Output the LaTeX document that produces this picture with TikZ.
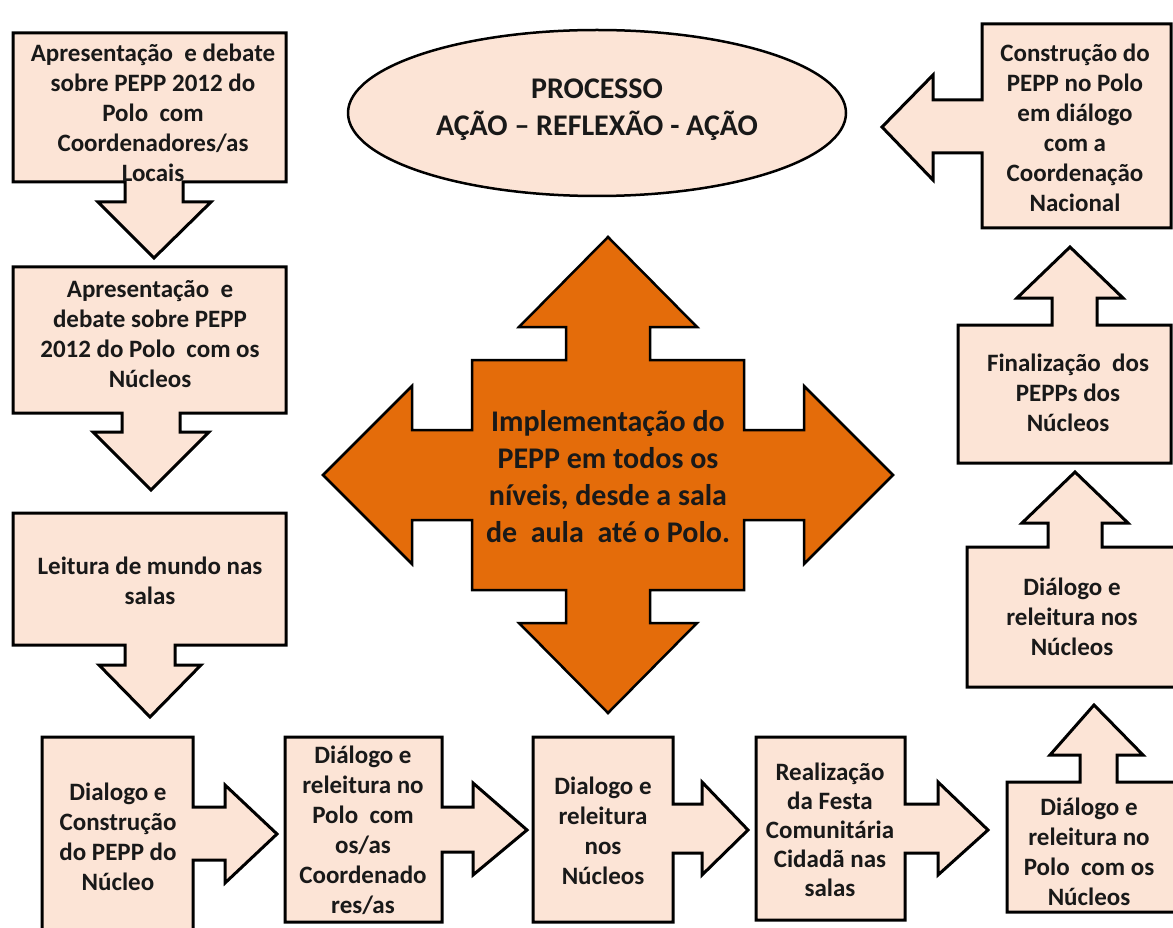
\documentclass[tikz,border=0pt]{standalone}
\usepackage{fontspec}
\setmainfont{Carlito}
\definecolor{peach}{HTML}{FCE4D6}
\definecolor{orng}{HTML}{E46C0A}
\begin{document}
\begin{tikzpicture}[x=1pt,y=-1pt,
  box/.style={fill=peach,draw=black,line width=3pt,line join=miter},
  txt/.style={font=\fontsize{25}{30}\selectfont\bfseries,align=center,inner sep=0pt,text=black!90},
  bigtxt/.style={font=\fontsize{30}{37}\selectfont\bfseries,align=center,inner sep=0pt,text=black!90}]
\useasboundingbox (0,0) rectangle (1173,928);
\fill[white] (0,0) rectangle (1173,928);
\clip (0,0) rectangle (1173,928);

% left column (down arrows)
\draw[box] (13,33) -- (286,33) -- (286,182) -- (183,182) -- (183,202) -- (211,202) -- (154,258)
  -- (98,202) -- (125,202) -- (125,182) -- (13,182) -- cycle;
\draw[box] (13,267) -- (286,267) -- (286,413) -- (180,413) -- (180,432) -- (209,432) -- (151,490)
  -- (93,432) -- (122,432) -- (122,413) -- (13,413) -- cycle;
\draw[box] (13,513) -- (286,513) -- (286,645) -- (175,645) -- (175,665) -- (201,665) -- (150,717)
  -- (99,665) -- (125,665) -- (125,645) -- (13,645) -- cycle;

% bottom row (right arrows)
\draw[box] (42,940) -- (42,737) -- (193,737) -- (193,807) -- (225,807) -- (225,785) -- (277,834)
  -- (225,883) -- (225,860) -- (193,860) -- (193,940);
\draw[box] (285,737) -- (442,737) -- (442,807) -- (473,807) -- (473,783) -- (527,830)
  -- (473,875) -- (473,852) -- (442,852) -- (442,922) -- (285,922) -- cycle;
\draw[box] (533,737) -- (673,737) -- (673,804) -- (702,804) -- (702,782) -- (748,830)
  -- (702,875) -- (702,853) -- (673,853) -- (673,922) -- (533,922) -- cycle;
\draw[box] (756,737) -- (905,737) -- (905,804) -- (938,804) -- (938,782) -- (988,830)
  -- (938,875) -- (938,853) -- (905,853) -- (905,920) -- (756,920) -- cycle;

% right column (up arrows)
\draw[box] (1185,912) -- (1007,912) -- (1007,782) -- (1080,782) -- (1080,755) -- (1050,755) -- (1094,705)
  -- (1143,755) -- (1117,755) -- (1117,782) -- (1185,782);
\draw[box] (1185,687) -- (967,687) -- (967,547) -- (1048,547) -- (1048,523) -- (1022,523) -- (1075,472)
  -- (1128,523) -- (1102,523) -- (1102,547) -- (1185,547);
\draw[box] (1171,463) -- (958,463) -- (958,325) -- (1052,325) -- (1052,298) -- (1017,298) -- (1070,247)
  -- (1123,298) -- (1097,298) -- (1097,325) -- (1171,325) -- cycle;
% top right (left arrow)
\draw[box] (982,24) -- (1171,24) -- (1171,228) -- (982,228) -- (982,153) -- (933,153) -- (933,180)
  -- (882,127) -- (933,75) -- (933,100) -- (982,100) -- cycle;

% ellipse
\draw[fill=peach,draw=black,line width=2.5pt] (597,113) ellipse [x radius=249,y radius=83];

% central four-way arrow
\draw[fill=orng,draw=black,line width=2.5pt,line join=miter]
  (608,237) -- (697,327) -- (650,327) -- (650,360) -- (744,360) -- (744,430) -- (804,430) -- (804,386)
  -- (893,475) -- (804,564) -- (804,520) -- (744,520) -- (744,590) -- (650,590) -- (650,623) -- (697,623)
  -- (608,713) -- (519,623) -- (566,623) -- (566,590) -- (472,590) -- (472,520) -- (412,520) -- (412,564)
  -- (323,475) -- (412,386) -- (412,430) -- (472,430) -- (472,360) -- (566,360) -- (566,327) -- (519,327) -- cycle;

% texts
\node[txt] (tA) at (153,113) {Apresentação\ \ e debate\\sobre PEPP 2012 do\\Polo\ \ com\\Coordenadores/as\\Locais};
\node[txt] (tB) at (150,334) {Apresentação\ \ e\\debate sobre PEPP\\2012 do Polo\ \ com os\\Núcleos};
\node[txt] (tC) at (150,581) {Leitura de mundo nas\\salas};
\node[txt] (tD) at (118,837) {Dialogo e\\Construção\\do PEPP do\\Núcleo};
\node[txt] (tE) at (363,830) {Diálogo e\\releitura no\\Polo\ \ com\\os/as\\Coordenado\\res/as};
\node[txt] (tF) at (603,831) {Dialogo e\\releitura\\nos\\Núcleos};
\node[txt,font=\fontsize{25}{29}\selectfont\bfseries] (tG) at (830,830) {Realização\\da Festa\\Comunitária\\Cidadã nas\\salas};
\node[txt] (tH) at (1089,852) {Diálogo e\\releitura no\\Polo\ \ com os\\Núcleos};
\node[txt] (tJ) at (1072,617) {Diálogo e\\releitura nos\\Núcleos};
\node[txt] (tI) at (1068,393) {Finalização\ \ dos\\PEPPs dos\\Núcleos};
\node[txt] (tK) at (1075,128) {Construção do\\PEPP no Polo\\em diálogo\\com a\\Coordenação\\Nacional};
\node[bigtxt] (tP) at (597,110) {PROCESSO\\AÇÃO – REFLEXÃO - AÇÃO};
\node[bigtxt] (tM) at (608,477) {Implementação do\\PEPP em todos os\\níveis, desde a sala\\de\ \ aula\ \ até o Polo.};
\end{tikzpicture}
\end{document}
